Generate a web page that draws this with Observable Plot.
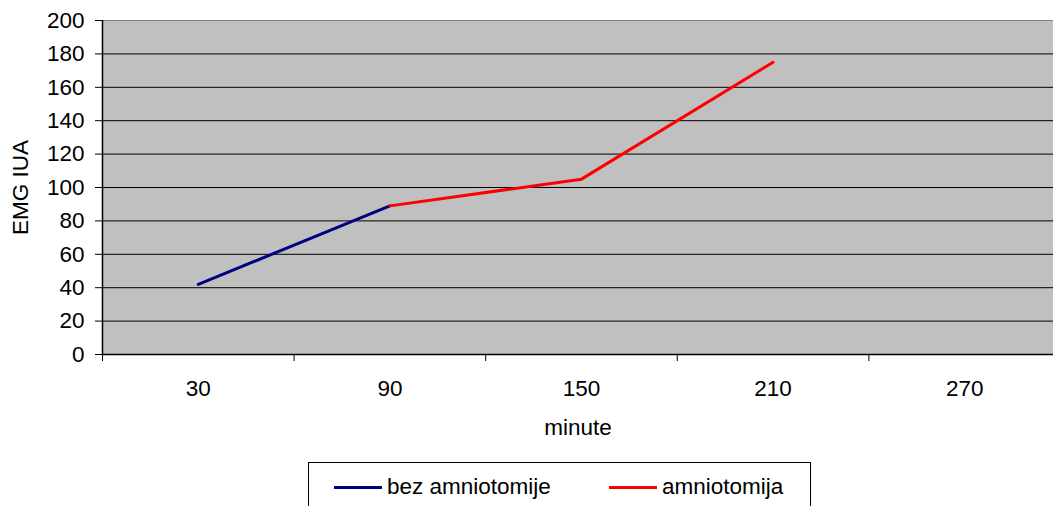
<!DOCTYPE html>
<html>
<head>
<meta charset="utf-8">
<script src="https://cdn.jsdelivr.net/npm/d3@7"></script>
<script src="https://cdn.jsdelivr.net/npm/@observablehq/plot@0.6"></script>
<style>
  html, body { margin: 0; padding: 0; background: #fff; }
  body { width: 1053px; height: 506px; overflow: hidden; position: relative; font-family: "Liberation Sans", Arial, sans-serif; }
  #legend { position: absolute; left: 308px; top: 462px; width: 503px; height: 50px; border: 1px solid #000; box-sizing: border-box; background: #fff; font-size: 22.5px; color: #000; }
  .item { position: absolute; top: 11px; display: flex; align-items: center; height: 26px; }
  .sw { width: 48px; height: 3px; margin-right: 5px; }
</style>
</head>
<body>
<div id="chart"></div>
<div id="legend"></div>
<script>
const categories = [30, 90, 150, 210, 270];
const seriesNames = ["bez amniotomije", "amniotomija"];
const bezMinutes = [30, 90];
const bezValues = [42, 89];
const amnioMinutes = [90, 150, 210];
const amnioValues = [89, 105, 175];
const yTicks = [0, 20, 40, 60, 80, 100, 120, 140, 160, 180, 200];
const xBoundaries = [0, 60, 120, 180, 240, 300];
const colors = ["#000080", "#FF0000"];

const data = [
  ...bezMinutes.map((m, i) => ({series: seriesNames[0], minute: m, value: bezValues[i]})),
  ...amnioMinutes.map((m, i) => ({series: seriesNames[1], minute: m, value: amnioValues[i]}))
];

const FS = 22.5;
const plot = Plot.plot({
  width: 1053,
  height: 458,
  marginLeft: 102,
  marginTop: 20,
  marginBottom: 104,
  marginRight: 0,
  style: {fontFamily: "Liberation Sans, Arial, sans-serif", fontSize: FS + "px", color: "#000", background: "#fff", overflow: "hidden"},
  x: {type: "linear", domain: [0, 300], range: [102, 1060]},
  y: {domain: [0, 200]},
  color: {domain: seriesNames, range: colors},
  marks: [
    Plot.frame({fill: "#C0C0C0", stroke: "#808080"}),
    Plot.gridY(yTicks.filter(t => t > 0 && t < 200), {stroke: "#000", strokeOpacity: 1, strokeWidth: 1}),
    Plot.ruleX([0], {stroke: "#000", strokeWidth: 1.5}),
    Plot.ruleY([0], {stroke: "#000", strokeWidth: 1.5}),
    Plot.axisY(yTicks, {tickSize: 7, tickPadding: 11, label: null, fontSize: FS}),
    Plot.axisX(xBoundaries, {tickSize: 7, tickFormat: () => "", label: null}),
    Plot.axisX(categories, {tickSize: 0, tickPadding: 26, label: null, fontSize: FS}),
    Plot.text(["minute"], {frameAnchor: "bottom", dy: 73, lineAnchor: "middle", fontSize: FS}),
    Plot.text(["EMG IUA"], {frameAnchor: "left", dx: -82, dy: 0, rotate: -90, lineAnchor: "middle", textAnchor: "middle", fontSize: FS}),
    Plot.line(data, {x: "minute", y: "value", z: "series", stroke: "series", strokeWidth: 3})
  ]
});
document.getElementById("chart").appendChild(plot);

const legend = document.getElementById("legend");
const positions = [25, 300];
seriesNames.forEach((name, i) => {
  const item = document.createElement("div");
  item.className = "item";
  item.style.left = positions[i] + "px";
  const sw = document.createElement("div");
  sw.className = "sw";
  sw.style.background = colors[i];
  const label = document.createElement("span");
  label.textContent = name;
  item.appendChild(sw);
  item.appendChild(label);
  legend.appendChild(item);
});
</script>
</body>
</html>
